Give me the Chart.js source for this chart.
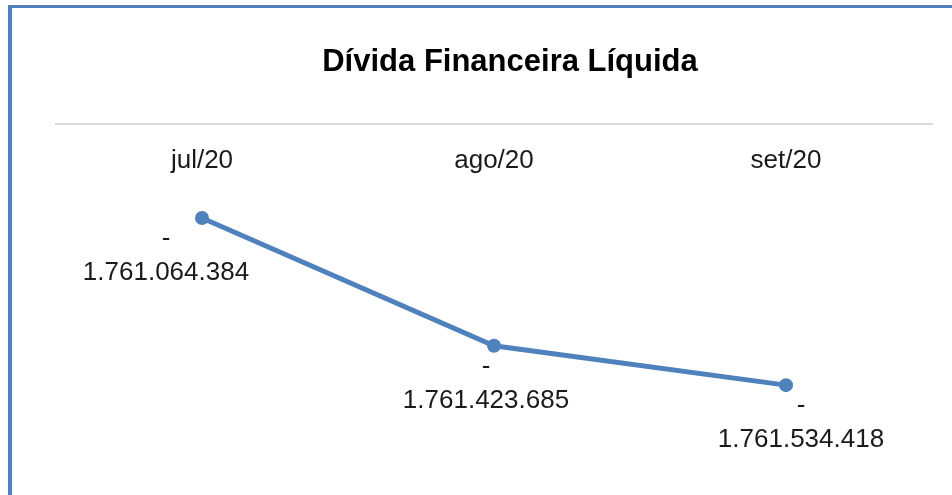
<!DOCTYPE html>
<html><head><meta charset="utf-8">
<script src="https://cdn.jsdelivr.net/npm/chart.js@4.4.1/dist/chart.umd.min.js"></script>
<style>html,body{margin:0;padding:0;background:#fff;overflow:hidden}canvas{display:block}</style>
</head><body>
<canvas id="c" width="952" height="495"></canvas>
<script>
const chartTitle = 'Dívida Financeira Líquida';
const categories = ['jul/20', 'ago/20', 'set/20'];
const values = [-1761064384, -1761423685, -1761534418];
const yMin = -1761700000;
const yMax = -1760800000;

function fmt(v) {
  const s = String(Math.abs(v));
  const parts = [];
  for (let i = s.length; i > 0; i -= 3) parts.unshift(s.slice(Math.max(0, i - 3), i));
  return parts.join('.');
}

const BLUE = '#4F81BD';
const FONT = '"Liberation Sans", Arial, sans-serif';

const decor = {
  id: 'decor',
  beforeDraw(chart) {
    const ctx = chart.ctx;
    ctx.save();
    ctx.fillStyle = '#fff';
    ctx.fillRect(0, 0, chart.width, chart.height);
    ctx.fillStyle = BLUE;
    ctx.fillRect(8, 5, 4, chart.height - 5);
    ctx.fillRect(8, 5, chart.width - 8, 3);
    ctx.restore();
  },
  afterDraw(chart) {
    const ctx = chart.ctx;
    const xs = chart.scales.x, ys = chart.scales.y;
    ctx.save();
    ctx.fillStyle = '#000';
    ctx.textAlign = 'center';
    ctx.textBaseline = 'middle';
    ctx.font = 'bold 31px ' + FONT;
    ctx.fillText(chartTitle, 510, 62);
    ctx.fillStyle = '#1a1a1a';
    ctx.font = '26px ' + FONT;
    categories.forEach((c, i) => {
      ctx.fillText(c, xs.getPixelForValue(i), 161);
    });
    const shift = [-36, -8, 15];
    values.forEach((v, i) => {
      const px = xs.getPixelForValue(i) + shift[i];
      const py = ys.getPixelForValue(v);
      ctx.fillText('-', px, py + 21);
      ctx.fillText(fmt(v), px, py + 55);
    });
    ctx.restore();
  }
};

new Chart(document.getElementById('c'), {
  type: 'line',
  data: {
    labels: categories,
    datasets: [{
      data: values,
      borderColor: BLUE,
      backgroundColor: BLUE,
      borderWidth: 5,
      pointRadius: 7,
      pointBackgroundColor: BLUE,
      pointBorderColor: BLUE,
      pointBorderWidth: 0,
      tension: 0,
      clip: false
    }]
  },
  options: {
    responsive: false,
    animation: false,
    events: [],
    layout: { padding: { left: 56, right: 20, top: 124, bottom: 51 } },
    plugins: { legend: { display: false }, title: { display: false }, tooltip: { enabled: false } },
    scales: {
      x: {
        type: 'category',
        position: 'top',
        offset: true,
        grid: { display: false, drawTicks: false },
        border: { display: true, color: '#D9D9D9', width: 2 },
        ticks: { display: false }
      },
      y: {
        display: false,
        min: yMin,
        max: yMax
      }
    }
  },
  plugins: [decor]
});
</script>
</body></html>
